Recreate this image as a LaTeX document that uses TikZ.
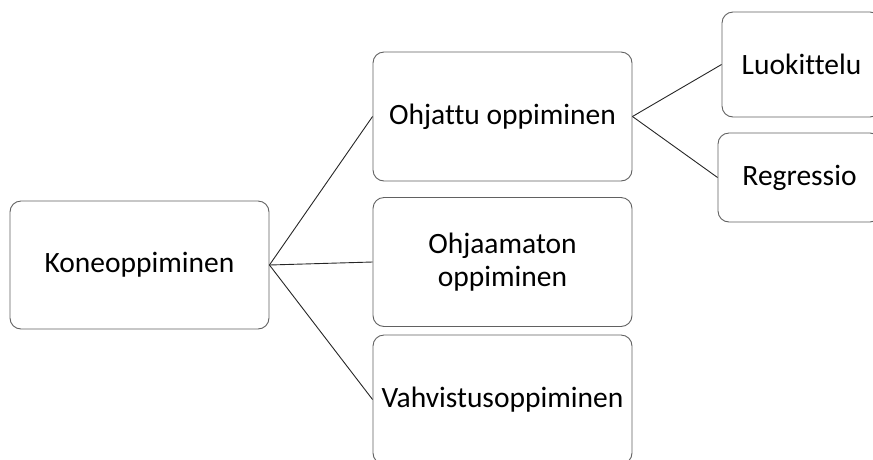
\documentclass[tikz,border=0pt]{standalone}
\usepackage{fontspec}
\setmainfont[Ligatures=NoCommon]{Carlito}
\begin{document}
\begin{tikzpicture}[x=1pt,y=-1pt,
  box/.style={draw=black!62,line width=0.9pt,rounded corners=11pt,fill=white,
    inner sep=0pt,align=center,font=\fontsize{29.5}{33.5}\selectfont},
  link/.style={draw=black!85,line width=0.9pt}]
\useasboundingbox (0,0) rectangle (873,459);
\clip (0,0) rectangle (873,459);
\node[box,minimum width=259pt,minimum height=128pt] (kone) at (139.5,265) {Koneoppiminen};
\node[box,minimum width=259pt,minimum height=129pt] (ohj) at (502.5,116.5) {Ohjattu oppiminen};
\node[box,minimum width=259pt,minimum height=129pt] (ohjm) at (502.5,262) {Ohjaamaton\\oppiminen};
\node[box,minimum width=259pt,minimum height=129pt] (vahv) at (502.5,399.5) {Vahvistusoppiminen};
\node[box,minimum width=159pt,minimum height=105pt] (luok) at (801.5,64.5) {Luokittelu};
\node[box,minimum width=163pt,minimum height=89pt] (regr) at (799.5,177.5) {Regressio};
\draw[link] (kone.east) -- (ohj.west);
\draw[link] (kone.east) -- (ohjm.west);
\draw[link] (kone.east) -- (vahv.west);
\draw[link] (ohj.east) -- (luok.west);
\draw[link] (ohj.east) -- (regr.west);
\end{tikzpicture}
\end{document}
